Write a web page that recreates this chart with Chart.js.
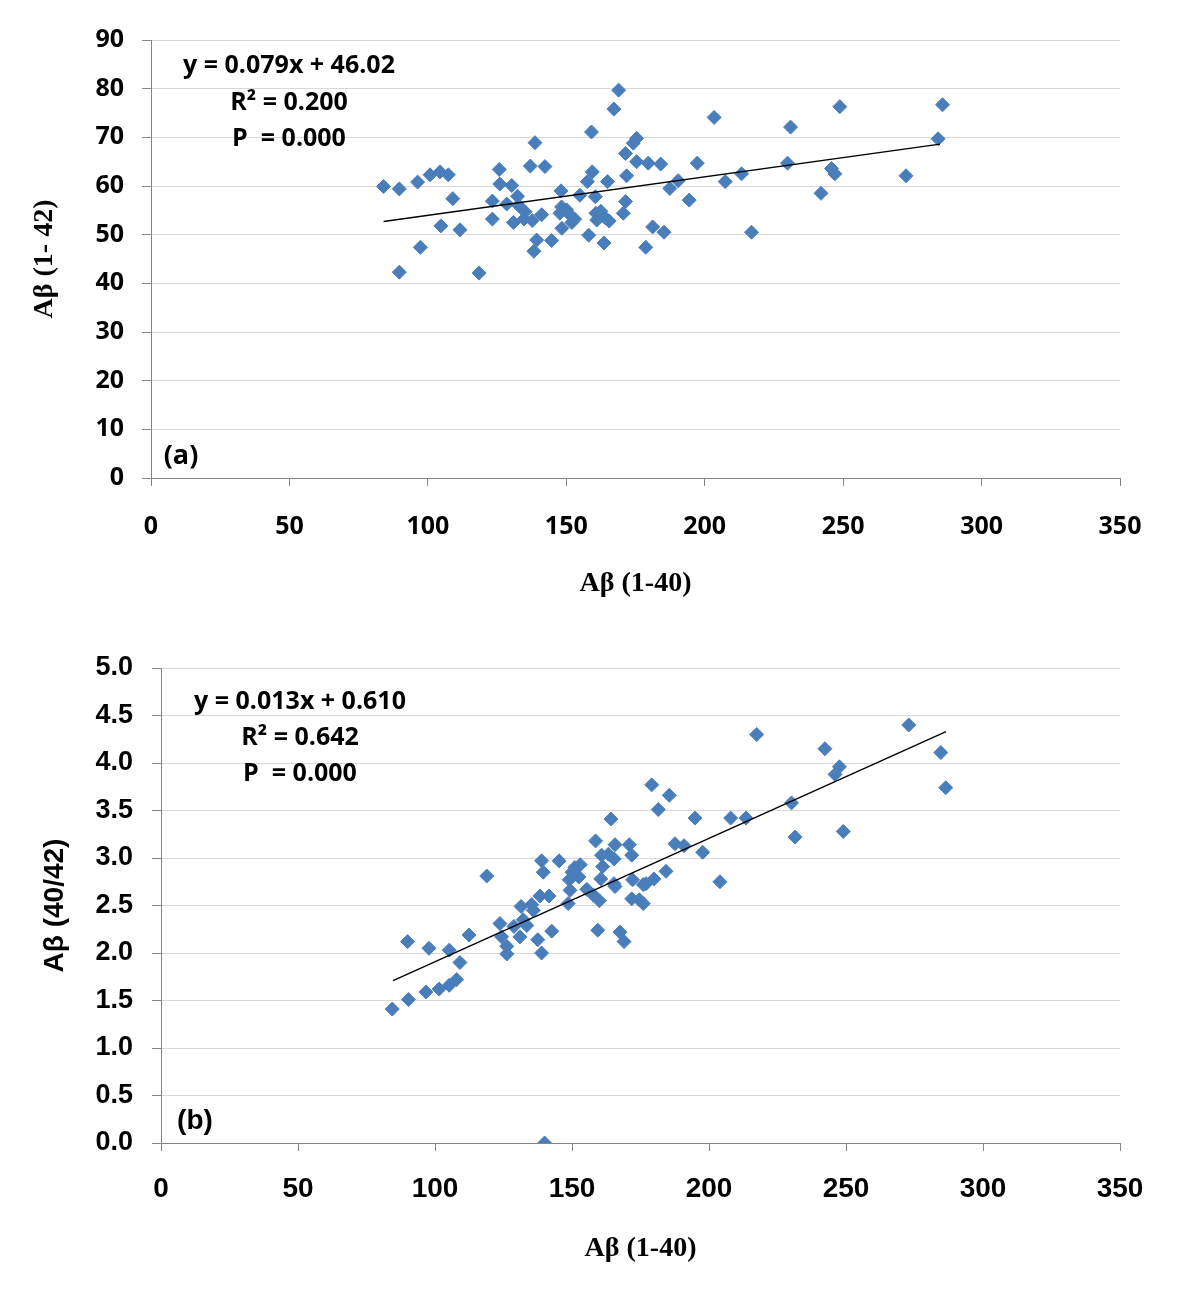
<!DOCTYPE html>
<html><head><meta charset="utf-8">
<script src="https://cdn.jsdelivr.net/npm/chart.js@4.4.1/dist/chart.umd.min.js"></script>
<style>
html,body{margin:0;padding:0;background:#fff;}
#wa{position:absolute;left:0;top:0;width:1200px;height:620px;}
#wb{position:absolute;left:0;top:620px;width:1200px;height:684px;}
</style></head><body>
<div id="wa"><canvas id="ca" width="1200" height="620"></canvas></div>
<div id="wb"><canvas id="cb" width="1200" height="684"></canvas></div>
<script>
// ---- Panel (a): Aβ(1-40) vs Aβ(1-42) ----
const aX = [84,89.7,89.7,96.3,97.3,100.8,104.4,107.4,104.7,109,111.6,118.5,123.3,123.3,125.8,126,130.3,128.5,132.4,132.8,130.9,135.1,134.7,137.7,141.1,137,138.7,142.3,139.3,138.3,144.7,148.1,148.3,147.7,150.1,151.5,153,152,148.4,154.9,158.1,159.4,157.6,160.5,160.7,162.5,164,165.5,161,163.6,164.9,159.1,167.2,168.9,171.8,171.4,170.6,171.4,175.4,174.2,175.4,179.6,184.1,181.2,178.7,185.3,187.4,190.4,194.4,197.3,203.4,207.4,213.3,216.9,231,229.9,242,245.8,247,248.8,272.7,284.3,285.9];
const aY = [59.9,59.4,42.3,60.8,47.4,62.3,62.9,62.3,51.8,57.4,51.0,42.1,53.2,56.9,63.4,60.4,60.1,56.3,57.9,56.0,52.5,54.7,53.2,52.9,54.1,64.1,68.9,64.0,48.9,46.6,48.8,59.0,55.7,54.4,55.1,54.0,53.2,52.5,51.3,58.1,49.9,62.9,60.9,57.8,54.4,54.8,53.5,52.8,53.0,48.3,60.9,71.1,75.8,79.7,62.1,56.8,54.4,66.7,69.8,68.8,65.0,64.7,64.5,51.6,47.4,50.5,59.5,61.1,57.1,64.7,74.1,60.9,62.5,50.5,72.1,64.7,58.5,63.6,62.5,76.3,62.1,69.7,76.7];
const aTrendX = [84,285];
const aTrendY = [52.7,68.6];
const aLines = ['y = 0.079x + 46.02','R\u00B2 = 0.200','P  = 0.000'];

// ---- Panel (b): Aβ(1-40) vs Aβ(40/42) ----
const bX = [84.4,90.3,90,96.7,97.8,101.5,105.2,107.9,105.2,109.1,112.4,118.9,123.7,124.3,126.2,126.2,128.8,131,132.2,133.5,131.4,135.3,135.9,137.5,138.9,138.3,141.6,142.6,138.9,139.5,145.3,148.6,149,150,151,153,152.5,149.3,155.4,157.8,160,158.6,159.4,160.8,163.3,165.4,160.5,161.2,165.3,165.7,165.7,164.2,167.5,169,170.9,171.8,172.1,171.8,174.6,176,176,177,179.9,179.1,185.5,181.5,194.9,207.9,213.5,187.6,190.9,197.7,204,184.3,217.4,242.3,247.6,246,230.1,231.4,249,272.9,284.6,286.4,140];
const bY = [1.41,1.51,2.12,1.59,2.05,1.62,1.66,1.72,2.03,1.90,2.19,2.81,2.31,2.17,2.07,1.99,2.28,2.17,2.35,2.29,2.49,2.51,2.45,2.14,2.0,2.60,2.60,2.23,2.97,2.85,2.97,2.52,2.77,2.85,2.90,2.93,2.80,2.66,2.67,2.61,2.55,3.18,2.24,3.03,3.04,2.99,2.78,2.91,2.73,2.70,3.14,3.41,2.22,2.12,3.14,3.03,2.77,2.57,2.56,2.52,2.72,2.73,2.78,3.77,3.66,3.51,3.42,3.42,3.42,3.15,3.13,3.06,2.75,2.86,4.30,4.15,3.96,3.88,3.58,3.22,3.28,4.40,4.11,3.74,0.0];
const bTrendX = [84.7,286.5];
const bTrendY = [1.71,4.33];
const bLines = ['y = 0.013x + 0.610','R\u00B2 = 0.642','P  = 0.000'];

const xTickMin = 0, xTickMax = 350, xStep = 50;

const MARK = '#4a7ebb';
const AXIS = '#868686';
const GRID = '#d9d9d9';

const annot = {
  id: 'annot',
  afterDraw(chart, args, o) {
    const {ctx, chartArea: {left, top, bottom}} = chart;
    ctx.save();
    ctx.fillStyle = '#000';
    ctx.font = o.font;
    ctx.textAlign = 'center';
    ctx.textBaseline = 'alphabetic';
    o.lines.forEach((t, i) => ctx.fillText(t, left + o.dx, top + o.dy[i]));
    ctx.font = o.labelFont;
    ctx.textBaseline = 'middle';
    ctx.fillText(o.label, left + o.lx, bottom - o.ly);
    ctx.restore();
  }
};

function pts(xs, ys) { return xs.map((x, i) => ({x: x, y: ys[i]})); }

function makeChart(id, cfg) {
  return new Chart(document.getElementById(id), {
    type: 'scatter',
    data: {
      datasets: [
        {type: 'line', data: pts(cfg.tx, cfg.ty), borderColor: '#000', borderWidth: 1.4,
         pointRadius: 0, fill: false, order: 0},
        {data: pts(cfg.xs, cfg.ys), pointStyle: 'rectRot', pointRadius: 7, pointHoverRadius: 7,
         backgroundColor: MARK, borderColor: MARK, borderWidth: 1, order: 1}
      ]
    },
    options: {
      responsive: false, animation: false, devicePixelRatio: 1,
      layout: {padding: {top: cfg.padTop, right: 80, left: 0, bottom: 0}},
      plugins: {legend: {display: false}, tooltip: {enabled: false},
        annot: {font: cfg.annFont, lines: cfg.lines, dx: cfg.dx, dy: cfg.dy,
                labelFont: cfg.labelFont, label: cfg.label, lx: cfg.lx, ly: cfg.ly}},
      scales: {
        x: {type: 'linear', min: xTickMin, max: xTickMax,
            ticks: {stepSize: xStep, color: '#000', font: cfg.xTickFont, padding: cfg.xTickPad, maxRotation: 0},
            grid: {drawOnChartArea: false, drawTicks: true, tickLength: 8, tickColor: AXIS},
            border: {color: AXIS, width: 1},
            title: {display: true, text: 'A\u03B2 (1-40)', color: '#000', font: cfg.xTitleFont,
                    padding: {top: 0, bottom: cfg.xTitlePad}},
            afterFit: s => { s.height = cfg.xH; }},
        y: {type: 'linear', min: cfg.yMin, max: cfg.yMax,
            ticks: {stepSize: cfg.yStep, color: '#000', font: cfg.yTickFont, padding: cfg.yTickPad,
                    callback: cfg.yFmt},
            grid: {color: GRID, lineWidth: 1, tickLength: 9, tickColor: AXIS},
            border: {color: AXIS, width: 1},
            title: {display: true, text: cfg.yTitle, color: '#000', font: cfg.yTitleFont,
                    padding: {top: cfg.yTitlePad, bottom: 0}},
            afterFit: s => { s.width = cfg.yW; }}
      }
    },
    plugins: [annot]
  });
}

makeChart('ca', {
  xs: aX, ys: aY, tx: aTrendX, ty: aTrendY, padTop: 40,
  annFont: 'bold 25px "Open Sans"', lines: aLines, dx: 138, dy: [33, 70, 106],
  labelFont: 'bold 27px "Open Sans"', label: '(a)', lx: 30, ly: 22,
  xTickFont: {family: 'Open Sans', size: 25, weight: 'bold'}, xTickPad: 26,
  xTitleFont: {family: 'Liberation Serif', size: 28, weight: 'bold'}, xTitlePad: 19, xH: 142,
  yMin: 0, yMax: 90, yStep: 10, yFmt: v => v,
  yTickFont: {family: 'Open Sans', size: 25, weight: 'bold'}, yTickPad: 18,
  yTitle: 'A\u03B2 (1- 42)', yTitleFont: {family: 'Liberation Serif', size: 28, weight: 'bold'},
  yTitlePad: 28, yW: 151
});

makeChart('cb', {
  xs: bX, ys: bY, tx: bTrendX, ty: bTrendY, padTop: 48,
  annFont: 'bold 25px "Open Sans"', lines: bLines, dx: 139, dy: [41, 77, 113],
  labelFont: 'bold 28px "Liberation Sans"', label: '(b)', lx: 34, ly: 22,
  xTickFont: {family: 'Liberation Sans', size: 28, weight: 'bold'}, xTickPad: 21,
  xTitleFont: {family: 'Liberation Serif', size: 28, weight: 'bold'}, xTitlePad: 38, xH: 161,
  yMin: 0, yMax: 5, yStep: 0.5, yFmt: v => Number(v).toFixed(1),
  yTickFont: {family: 'Liberation Sans', size: 27, weight: 'bold'}, yTickPad: 19,
  yTitle: 'A\u03B2 (40/42)', yTitleFont: {family: 'Liberation Sans', size: 28, weight: 'bold'},
  yTitlePad: 38, yW: 161
});
</script>
</body></html>
